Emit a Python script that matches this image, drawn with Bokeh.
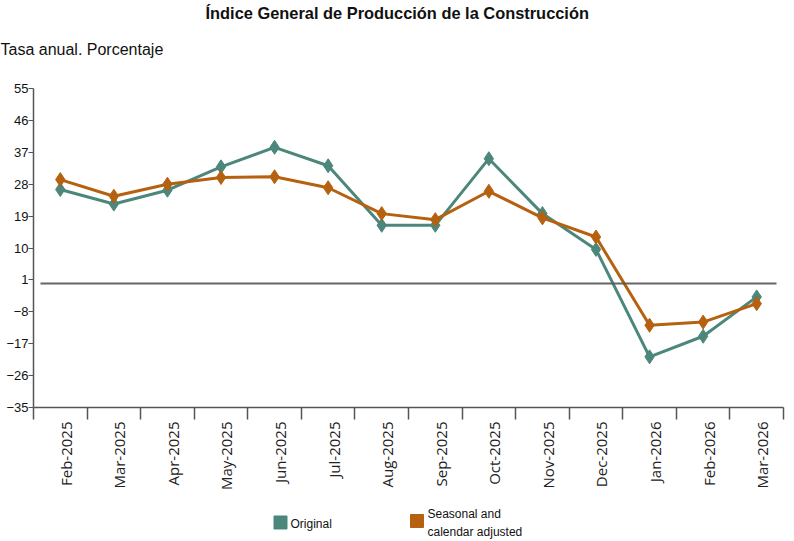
import math
from bokeh.plotting import figure
from bokeh.models import Range1d, FixedTicker, ColumnDataSource, Title
from bokeh.layouts import column
from bokeh.embed import file_html
from bokeh.resources import INLINE
from bokeh.core.properties import value

# ---- data ----
months = ["Feb-2025", "Mar-2025", "Apr-2025", "May-2025", "Jun-2025", "Jul-2025",
          "Aug-2025", "Sep-2025", "Oct-2025", "Nov-2025", "Dec-2025", "Jan-2026",
          "Feb-2026", "Mar-2026"]
original = [26.5, 22.4, 26.3, 32.9, 38.4, 33.2, 16.4, 16.4, 35.2, 19.7, 9.6, -20.7, -14.9, -3.8]
adjusted = [29.3, 24.6, 28.0, 29.9, 30.1, 27.0, 19.7, 18.0, 26.0, 18.5, 13.1, -11.8, -10.9, -5.7]
y_ticks = [55, 46, 37, 28, 19, 10, 1, -8, -17, -26, -35]
series_names = ["Original", "Seasonal and\ncalendar adjusted"]
title_text = "Índice General de Producción de la Construcción"
subtitle_text = "Tasa anual. Porcentaje"

TEAL = "#4B877B"
ORANGE = "#B5610F"
W = 794
FRAME_L, FRAME_R = 33, 783
MAIN_H = 503
TOTAL_H = 541

# ---- main chart ----
xs = [i + 0.5 for i in range(len(months))]
src = ColumnDataSource(dict(x=xs, orig=original, adj=adjusted))

p = figure(width=W, height=MAIN_H, output_backend="svg", toolbar_location=None,
           title_location=None,
           x_range=Range1d(0, len(months)), y_range=Range1d(-35, 55),
           min_border_left=FRAME_L, min_border_right=W - FRAME_R, min_border_top=88,
           min_border_bottom=96)
p.outline_line_color = None
p.xgrid.visible = False
p.ygrid.visible = False

# header: panels stack outward from the frame (spacer, subtitle, title)
p.add_layout(Title(text=" ", text_font_size="2px", standoff=10), "above")
p.add_layout(Title(text=subtitle_text, align="left", offset=-FRAME_L,
                   text_font="Liberation Sans", text_font_size="16px",
                   text_font_style="normal", text_color="#111111",
                   standoff=34), "above")
p.add_layout(Title(text=title_text, align="left", offset=172,
                   text_font="Liberation Sans", text_font_size="16.4px",
                   text_font_style="bold", text_color="#111111",
                   standoff=0), "above")

ya = p.yaxis[0]
ya.ticker = FixedTicker(ticks=y_ticks)
ya.major_label_text_font = "Liberation Sans"
ya.major_label_text_font_size = "13px"
ya.major_label_text_color = "#111111"
ya.axis_line_color = "#555555"
ya.axis_line_width = 1.5
ya.major_tick_line_color = "#555555"
ya.major_tick_out = 5
ya.major_tick_in = 0
ya.minor_tick_line_color = None
ya.major_label_standoff = 0

label_pos = [x + 0.10 for x in xs]
xa = p.xaxis[0]
xa.ticker = FixedTicker(ticks=label_pos, minor_ticks=list(range(len(months) + 1)))
xa.major_label_overrides = {x: m for x, m in zip(label_pos, months)}
xa.major_label_orientation = math.pi / 2
xa.major_label_text_font = "Open Sans"
xa.major_label_text_font_size = "15px"
xa.major_label_text_color = "#222222"
xa.axis_line_color = "#555555"
xa.axis_line_width = 1.5
xa.major_tick_line_color = None
xa.major_tick_out = 0
xa.major_tick_in = 0
xa.minor_tick_line_color = "#555555"
xa.minor_tick_line_width = 1.5
xa.minor_tick_out = 12
xa.minor_tick_in = 0
xa.major_label_standoff = 2

p.line("x", "orig", source=src, line_color=TEAL, line_width=3)
p.scatter("x", "orig", source=src, marker="diamond", size=14,
          fill_color=TEAL, line_color=TEAL)
p.line("x", "adj", source=src, line_color=ORANGE, line_width=3)
p.scatter("x", "adj", source=src, marker="diamond", size=14,
          fill_color=ORANGE, line_color=ORANGE)

p.segment(x0=[0.13], y0=[0], x1=[len(months) - 0.13], y1=[0],
          line_color="#555555", line_width=2, line_alpha=0.9)

# ---- legend (frame is aligned with the main frame; data units = page pixels) ----
lg = figure(width=W, height=TOTAL_H - MAIN_H, output_backend="svg",
            toolbar_location=None, title_location=None,
            x_range=Range1d(FRAME_L, FRAME_R), y_range=Range1d(TOTAL_H, MAIN_H),
            x_axis_location=None, y_axis_location=None,
            min_border_left=FRAME_L, min_border_right=W - FRAME_R,
            min_border_top=0, min_border_bottom=0)
lg.outline_line_color = None
lg.xgrid.visible = False
lg.ygrid.visible = False
lg.rect(x=[280, 416.5], y=[522, 520.5], width=13, height=13,
        fill_color=[TEAL, ORANGE], line_color=[TEAL, ORANGE])
lg.text(x=[290, 427], y=[523, 522.5], text=series_names,
        text_font=value("Liberation Sans"), text_font_size="12px",
        text_align="left", text_baseline="middle", text_color="#111111",
        text_line_height=1.35)

layout = column(p, lg, spacing=0)
open("out.html", "w").write(file_html(layout, INLINE))
